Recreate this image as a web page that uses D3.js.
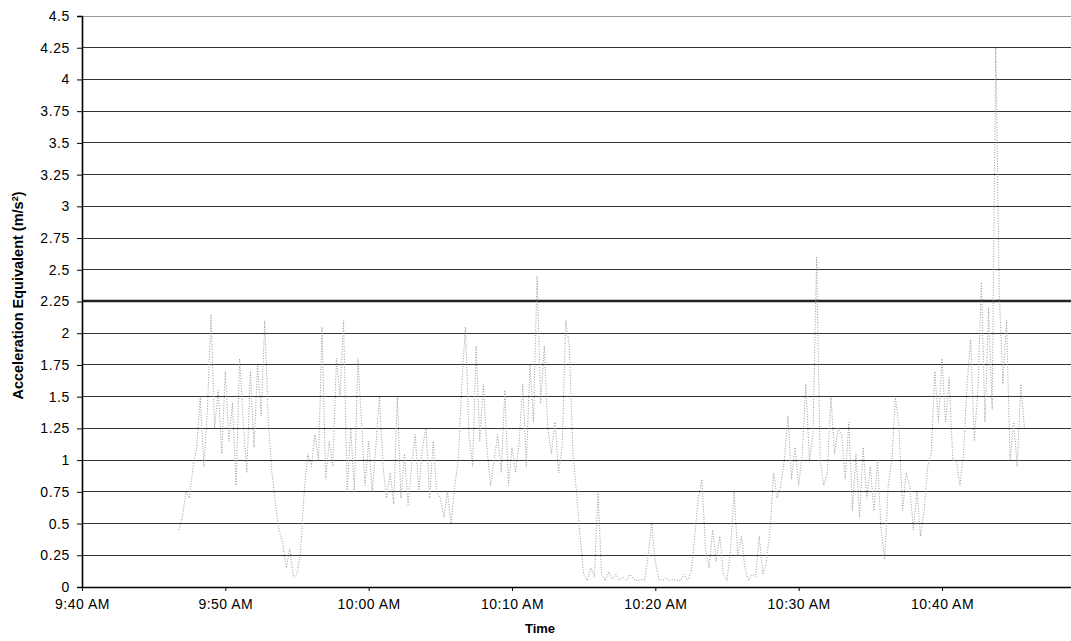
<!DOCTYPE html>
<html>
<head>
<meta charset="utf-8">
<script src="https://cdn.jsdelivr.net/npm/d3@7"></script>
<style>
  html, body { margin: 0; padding: 0; background: #fff; }
  svg { display: block; font-family: "Liberation Sans", Arial, sans-serif; }
</style>
</head>
<body>
<svg id="chart" width="1071" height="641"></svg>
<script>
// Acceleration equivalent readings, one every 15 s starting 9:46:45 AM (m/s²)
const seriesStart = "09:46:45";
const sampleSeconds = 15;
const accel = [
  0.45,
  0.55, 0.75, 0.70, 0.95,
  1.10, 1.50, 0.95, 1.40,
  2.15, 1.25, 1.55, 1.05,
  1.70, 1.15, 1.45, 0.80,
  1.80, 1.30, 0.90, 1.70,
  1.10, 1.75, 1.35, 2.10,
  1.30, 0.90, 0.65, 0.45,
  0.35, 0.15, 0.30, 0.08,
  0.10, 0.28, 0.75, 1.05,
  0.95, 1.20, 1.00, 2.05,
  0.85, 1.15, 0.95, 1.80,
  1.50, 2.10, 0.75, 1.25,
  0.75, 1.80, 1.30, 0.80,
  1.15, 0.75, 1.10, 1.50,
  0.95, 0.70, 0.90, 0.65,
  1.50, 0.70, 1.05, 0.65,
  0.95, 1.20, 0.75, 1.10,
  1.25, 0.70, 1.15, 0.75,
  0.70, 0.55, 0.75, 0.50,
  0.80, 1.00, 1.60, 2.05,
  1.20, 0.95, 1.90, 1.15,
  1.60, 1.10, 0.80, 1.00,
  1.20, 0.90, 1.55, 0.80,
  1.10, 0.90, 1.15, 1.60,
  0.95, 1.75, 1.30, 2.45,
  1.45, 1.90, 1.25, 1.05,
  1.30, 0.90, 1.10, 2.10,
  1.90, 1.05, 0.75, 0.40,
  0.10, 0.05, 0.15, 0.08,
  0.75, 0.10, 0.05, 0.12,
  0.06, 0.10, 0.05, 0.08,
  0.05, 0.10, 0.06, 0.05,
  0.06, 0.05, 0.25, 0.50,
  0.20, 0.06, 0.05, 0.07,
  0.05, 0.06, 0.05, 0.05,
  0.10, 0.05, 0.12, 0.40,
  0.70, 0.85, 0.30, 0.15,
  0.45, 0.20, 0.40, 0.10,
  0.05, 0.30, 0.75, 0.25,
  0.40, 0.15, 0.05, 0.10,
  0.08, 0.40, 0.10, 0.20,
  0.45, 0.90, 0.70, 0.80,
  1.00, 1.35, 0.85, 1.10,
  0.80, 1.05, 1.60, 1.00,
  1.20, 2.60, 1.00, 0.80,
  0.90, 1.50, 1.05, 1.25,
  1.20, 0.85, 1.30, 0.60,
  1.05, 0.55, 1.10, 0.70,
  0.95, 0.60, 1.00, 0.45,
  0.22, 0.80, 1.00, 1.50,
  1.25, 0.60, 0.90, 0.80,
  0.45, 0.75, 0.40, 0.60,
  0.95, 1.05, 1.70, 1.30,
  1.80, 1.30, 1.65, 1.00,
  1.00, 0.80, 1.05, 1.60,
  1.95, 1.15, 1.55, 2.40,
  1.30, 2.20, 1.40, 4.25,
  2.30, 1.60, 2.10, 1.00,
  1.30, 0.95, 1.60, 1.25
];

const yTicks = [0, 0.25, 0.5, 0.75, 1, 1.25, 1.5, 1.75, 2, 2.25, 2.5, 2.75, 3, 3.25, 3.5, 3.75, 4, 4.25, 4.5];
const yTickLabels = ["0", "0.25", "0.5", "0.75", "1", "1.25", "1.5", "1.75", "2", "2.25", "2.5", "2.75", "3", "3.25", "3.5", "3.75", "4", "4.25", "4.5"];
const xTickTimes = ["09:40", "09:50", "10:00", "10:10", "10:20", "10:30", "10:40"];
const xTickLabels = ["9:40 AM", "9:50 AM", "10:00 AM", "10:10 AM", "10:20 AM", "10:30 AM", "10:40 AM"];
const thresholdValue = 2.25;

const parseT = d3.timeParse("%H:%M:%S");
const parseHM = d3.timeParse("%H:%M");
const t0 = parseT(seriesStart);
const points = accel.map((v, i) => ({ t: new Date(t0.getTime() + i * sampleSeconds * 1000), v }));

const svg = d3.select("#chart");
const plotLeft = 82, plotRight = 1071, plotTop = 16, plotBottom = 587;

const x = d3.scaleTime().domain([parseHM("09:40"), parseHM("10:49")]).range([plotLeft, plotRight]);
const y = d3.scaleLinear().domain([0, 4.5]).range([plotBottom, plotTop]);

// horizontal gridlines
svg.append("g").selectAll("line")
  .data(yTicks.filter(v => v > 0))
  .join("line")
  .attr("x1", plotLeft).attr("x2", plotRight)
  .attr("y1", d => y(d)).attr("y2", d => y(d))
  .attr("stroke", d => d === 4.5 ? "#9a9a9a" : "#333")
  .attr("stroke-width", 1)
  .attr("shape-rendering", "crispEdges");

// threshold line
svg.append("line")
  .attr("x1", plotLeft).attr("x2", plotRight)
  .attr("y1", y(thresholdValue) - 0.5).attr("y2", y(thresholdValue) - 0.5)
  .attr("stroke", "#222").attr("stroke-width", 2.4);

// data trace
const line = d3.line().x(d => x(d.t)).y(d => y(d.v));
svg.append("path")
  .datum(points)
  .attr("d", line)
  .attr("fill", "none")
  .attr("stroke", "#8f8f8f")
  .attr("stroke-width", 0.9)
  .attr("stroke-dasharray", "1,1.6");

const tickFont = "'Liberation Sans', Arial, sans-serif";

// y axis
const yAxis = d3.axisLeft(y)
  .tickValues(yTicks)
  .tickFormat((d, i) => yTickLabels[i])
  .tickSize(5)
  .tickPadding(7);
const gy = svg.append("g").attr("transform", `translate(${plotLeft},0)`).call(yAxis);
gy.select(".domain").attr("stroke", "#000").attr("stroke-width", 1.6);
gy.selectAll(".tick line").attr("stroke", "#000");
gy.selectAll("text").attr("font-size", 14).attr("fill", "#000")
  .attr("font-family", tickFont).attr("letter-spacing", 0.6);

// x axis
const xAxis = d3.axisBottom(x)
  .tickValues(xTickTimes.map(parseHM))
  .tickFormat((d, i) => xTickLabels[i])
  .tickSize(4)
  .tickSizeOuter(0)
  .tickPadding(8);
const gx = svg.append("g").attr("transform", `translate(0,${plotBottom})`).call(xAxis);
gx.select(".domain").attr("stroke", "#000").attr("stroke-width", 1.6);
gx.selectAll(".tick line").attr("stroke", "#000");
gx.selectAll("text").attr("font-size", 14).attr("fill", "#000")
  .attr("font-family", tickFont).attr("letter-spacing", 0.5);

// axis titles
svg.append("text")
  .attr("x", 540).attr("y", 633)
  .attr("text-anchor", "middle")
  .attr("font-size", 13).attr("font-weight", "bold")
  .text("Time");

const yt = svg.append("text")
  .attr("transform", `translate(23,${(plotTop + plotBottom) / 2 - 6}) rotate(-90)`)
  .attr("text-anchor", "middle")
  .attr("font-size", 14.5).attr("font-weight", "bold");
yt.append("tspan").text("Acceleration Equivalent (m/s");
yt.append("tspan").attr("baseline-shift", "super").attr("font-size", 9).text("2");
yt.append("tspan").text(")");
</script>
</body>
</html>
